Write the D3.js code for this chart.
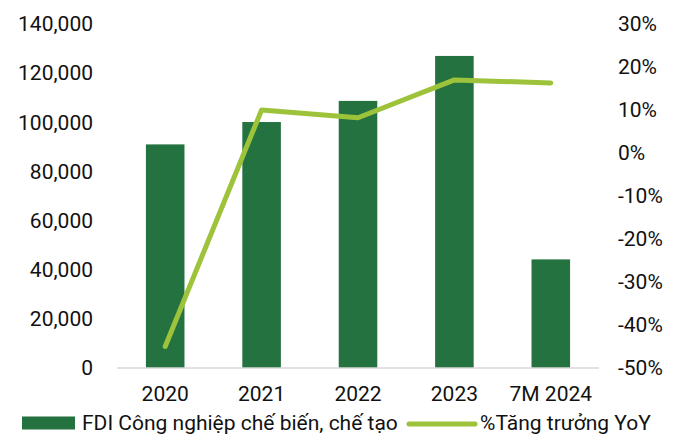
<!DOCTYPE html>
<html>
<head>
<meta charset="utf-8">
<script src="https://cdn.jsdelivr.net/npm/d3@7"></script>
<style>
  html, body { margin: 0; padding: 0; background: #fff; }
  svg text { font-family: Roboto, "Noto Sans", sans-serif; fill: #111; }
</style>
</head>
<body>
<div id="chart"></div>
<script>
const categories = ['2020', '2021', '2022', '2023', '7M 2024'];
const fdiValues = [91000, 100100, 108700, 127000, 44200];
const yoyValues = [-0.45, 0.10, 0.082, 0.17, 0.163];
const leftTicks = [0, 20000, 40000, 60000, 80000, 100000, 120000, 140000];
const rightTicks = [-0.5, -0.4, -0.3, -0.2, -0.1, 0, 0.1, 0.2, 0.3];
const seriesNames = ['FDI Công nghiệp chế biến, chế tạo', '%Tăng trưởng YoY'];

const COLORS = {
  bar: '#237240',
  line: '#9dc33b',
  axis: '#d9d9d9',
};

const width = 681;
const height = 436;
const margin = { top: 24, right: 82, bottom: 68, left: 117 };
const fontSize = 21;

const svg = d3.select('#chart').append('svg').attr('width', width).attr('height', height);

const x = d3.scaleBand()
  .domain(categories)
  .range([margin.left, width - margin.right])
  .paddingInner(0.6)
  .paddingOuter(0.3);
const yLeft = d3.scaleLinear().domain([0, 140000]).range([height - margin.bottom, margin.top]);
const yRight = d3.scaleLinear().domain([-0.5, 0.3]).range([height - margin.bottom, margin.top]);

// bars
svg.selectAll('.fdi-bar')
  .data(categories)
  .enter()
  .append('rect')
  .attr('class', 'fdi-bar')
  .attr('x', (c) => x(c))
  .attr('y', (c, i) => yLeft(fdiValues[i]))
  .attr('width', x.bandwidth())
  .attr('height', (c, i) => yLeft(0) - yLeft(fdiValues[i]))
  .attr('fill', COLORS.bar);

// baseline
svg.append('line')
  .attr('x1', margin.left)
  .attr('x2', width - margin.right)
  .attr('y1', yLeft(0))
  .attr('y2', yLeft(0))
  .attr('stroke', COLORS.axis)
  .attr('stroke-width', 1.5);

// line series
const line = d3.line()
  .x((d, i) => x(categories[i]) + x.bandwidth() / 2)
  .y((d) => yRight(d));

svg.append('path')
  .datum(yoyValues)
  .attr('d', line)
  .attr('fill', 'none')
  .attr('stroke', COLORS.line)
  .attr('stroke-width', 5)
  .attr('stroke-linecap', 'round')
  .attr('stroke-linejoin', 'round');

// left axis
const leftAxis = svg.append('g')
  .attr('transform', `translate(${margin.left - 24},0)`)
  .call(d3.axisLeft(yLeft).tickValues(leftTicks).tickSize(0).tickPadding(0).tickFormat(d3.format(',')));
leftAxis.select('.domain').remove();
leftAxis.selectAll('text').attr('font-size', fontSize).attr('font-family', null).attr('fill', '#111');

// right axis
const rightAxis = svg.append('g')
  .attr('transform', `translate(${width - margin.right + 19},0)`)
  .call(d3.axisRight(yRight).tickValues(rightTicks).tickSize(0).tickPadding(0));
rightAxis.select('.domain').remove();
rightAxis.selectAll('text').attr('font-size', fontSize).attr('font-family', null).attr('fill', '#111')
  .text((d) => `${Math.round(d * 100)}%`);

// bottom axis
const bottomAxis = svg.append('g')
  .attr('transform', `translate(0,${height - margin.bottom})`)
  .call(d3.axisBottom(x).tickSize(0).tickPadding(18));
bottomAxis.select('.domain').remove();
bottomAxis.selectAll('text').attr('font-size', fontSize).attr('font-family', null).attr('fill', '#111');

// legend
const legend = svg.append('g').attr('transform', 'translate(0,423)');
legend.append('rect')
  .attr('x', 22).attr('y', -6.5).attr('width', 53).attr('height', 13)
  .attr('fill', COLORS.bar);
legend.append('text')
  .attr('x', 82).attr('y', 0).attr('dy', '0.35em')
  .attr('font-size', fontSize)
  .text(seriesNames[0]);
legend.append('line')
  .attr('x1', 409).attr('x2', 475).attr('y1', 1).attr('y2', 1)
  .attr('stroke', COLORS.line).attr('stroke-width', 5).attr('stroke-linecap', 'round');
legend.append('text')
  .attr('x', 480).attr('y', 0).attr('dy', '0.35em')
  .attr('font-size', fontSize)
  .text(seriesNames[1]);
</script>
</body>
</html>
